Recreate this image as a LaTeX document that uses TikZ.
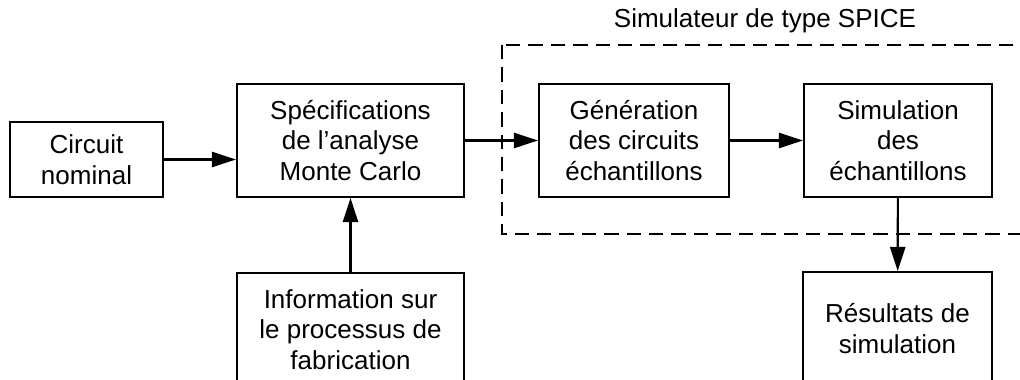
\documentclass[tikz,border=0pt]{standalone}
\usepackage{fontspec}
\setmainfont{Liberation Sans}
\usetikzlibrary{calc, positioning, arrows.meta}

\begin{document}
\begin{tikzpicture}[x=0.025cm, y=-0.025cm,
  box/.style={draw, line width=1.5pt, align=center, inner sep=0pt,
    minimum height=2.825cm, font=\fontsize{18.5}{21.8}\selectfont},
  flow/.style={line width=1.5pt, -{Triangle[length=0.6cm, width=0.38cm]}}]
\useasboundingbox (0,0) rectangle (1020,380);
\clip (0,0) rectangle (1020,380);

% Simulator frame
\draw[line width=1.5pt, dash pattern=on 0.36cm off 0.2cm] (502,45) rectangle (1028,234);
\node[font=\fontsize{18.5}{21.8}\selectfont] (spice) at (765,21) {Simulateur de type SPICE};

% Blocks
\node[box, minimum width=3.825cm, minimum height=1.875cm] (circ) at (86.5,159.5) {Circuit\\nominal};
\node[box, minimum width=5.675cm] (spec) at (350.5,140.5) {Spécifications\\de l’analyse\\Monte Carlo};
\node[box, minimum width=4.75cm] (gen) at (634,140.5) {Génération\\des circuits\\échantillons};
\node[box, minimum width=4.7cm] (sim) at (898,140.5) {Simulation\\des\\échantillons};
\node[box, minimum width=5.675cm] (info) at (350.5,329.5) {Information sur\\le processus de\\fabrication};
\node[box, minimum width=4.725cm] (res) at (897.5,328.5) {Résultats de\\simulation};

% Arrows
\draw[flow] (circ) -- (circ -| spec.west);
\draw[flow] (spec) -- (gen);
\draw[flow] (gen) -- (sim);
\draw[flow] (info) -- (spec);
\draw[flow] (sim) -- (res);
\end{tikzpicture}
\end{document}
